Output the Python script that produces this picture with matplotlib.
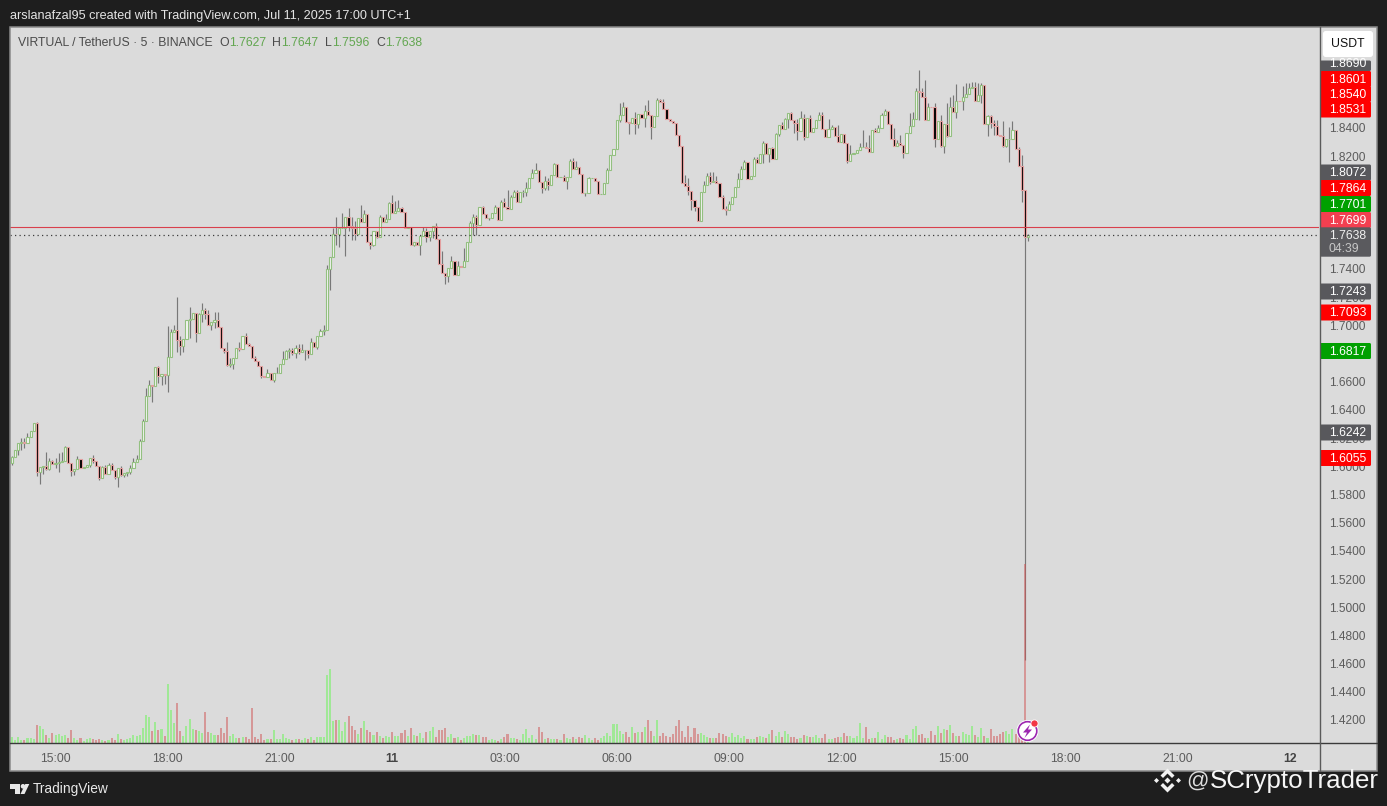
import matplotlib
matplotlib.use("Agg")
import matplotlib.pyplot as plt
from matplotlib.patches import Circle, FancyBboxPatch, Polygon, Rectangle

plt.rcParams['font.family'] = ['Liberation Sans', 'DejaVu Sans']

# 5 minute candles, first open then every close
first_open = 1.6024
closes = [
    1.6064, 1.6116, 1.6165, 1.6170, 1.6168, 1.6208, 1.6248, 1.6307, 1.5958, 1.5995,
    1.6000, 1.5981, 1.6036, 1.6017, 1.6026, 1.6031, 1.6036, 1.6139, 1.6021, 1.5967,
    1.5981, 1.6050, 1.5991, 1.5998, 1.6010, 1.6059, 1.6036, 1.6000, 1.5915, 1.5995,
    1.5946, 1.6012, 1.5972, 1.5925, 1.5988, 1.5941, 1.5951, 1.5960, 1.5988, 1.6031,
    1.6052, 1.6180, 1.6321, 1.6496, 1.6574, 1.6571, 1.6703, 1.6637, 1.6652, 1.6647,
    1.6772, 1.6954, 1.6970, 1.6897, 1.6850, 1.6902, 1.7039, 1.7043, 1.7086, 1.6944,
    1.7081, 1.7109, 1.7079, 1.7001, 1.7022, 1.7036, 1.6987, 1.6838, 1.6819, 1.6720,
    1.6727, 1.6767, 1.6838, 1.6831, 1.6921, 1.6866, 1.6852, 1.6767, 1.6748, 1.6708,
    1.6637, 1.6635, 1.6661, 1.6614, 1.6661, 1.6663, 1.6729, 1.6760, 1.6817, 1.6826,
    1.6803, 1.6838, 1.6814, 1.6824, 1.6826, 1.6798, 1.6885, 1.6845, 1.6921, 1.6963,
    1.6968, 1.7399, 1.7484, 1.7647, 1.7645, 1.7690, 1.7694, 1.7772, 1.7706, 1.7690,
    1.7645, 1.7760, 1.7732, 1.7789, 1.7593, 1.7572, 1.7671, 1.7626, 1.7767, 1.7732,
    1.7753, 1.7867, 1.7796, 1.7808, 1.7831, 1.7801, 1.7690, 1.7701, 1.7572, 1.7588,
    1.7572, 1.7635, 1.7668, 1.7624, 1.7666, 1.7708, 1.7614, 1.7437, 1.7371, 1.7352,
    1.7406, 1.7454, 1.7359, 1.7418, 1.7416, 1.7456, 1.7588, 1.7725, 1.7772, 1.7713,
    1.7838, 1.7791, 1.7760, 1.7763, 1.7796, 1.7838, 1.7749, 1.7874, 1.7843, 1.7824,
    1.7914, 1.7944, 1.7878, 1.7944, 1.7947, 1.7973, 1.8044, 1.8079, 1.8100, 1.8020,
    1.7973, 1.8027, 1.7996, 1.8067, 1.8145, 1.8051, 1.8055, 1.8022, 1.8055, 1.8169,
    1.8112, 1.8126, 1.8074, 1.7937, 1.7940, 1.8044, 1.8046, 1.8027, 1.7930, 1.7933,
    1.8008, 1.8103, 1.8209, 1.8249, 1.8457, 1.8490, 1.8546, 1.8440, 1.8433, 1.8471,
    1.8428, 1.8499, 1.8471, 1.8523, 1.8492, 1.8409, 1.8485, 1.8598, 1.8587, 1.8535,
    1.8464, 1.8450, 1.8434, 1.8349, 1.8275, 1.8009, 1.7990, 1.7950, 1.7891, 1.7841,
    1.7740, 1.7945, 1.7997, 1.8063, 1.8016, 1.8025, 1.8009, 1.7910, 1.7825, 1.7815,
    1.7862, 1.7914, 1.7980, 1.8037, 1.8108, 1.8157, 1.8039, 1.8056, 1.8181, 1.8150,
    1.8214, 1.8297, 1.8214, 1.8257, 1.8183, 1.8358, 1.8419, 1.8391, 1.8462, 1.8504,
    1.8457, 1.8434, 1.8382, 1.8469, 1.8339, 1.8469, 1.8375, 1.8403, 1.8457, 1.8493,
    1.8393, 1.8334, 1.8393, 1.8410, 1.8346, 1.8304, 1.8358, 1.8292, 1.8167, 1.8214,
    1.8221, 1.8245, 1.8264, 1.8268, 1.8257, 1.8233, 1.8386, 1.8375, 1.8398, 1.8493,
    1.8523, 1.8427, 1.8320, 1.8275, 1.8297, 1.8280, 1.8221, 1.8363, 1.8415, 1.8462,
    1.8663, 1.8658, 1.8622, 1.8457, 1.8552, 1.8549, 1.8320, 1.8452, 1.8275, 1.8427,
    1.8344, 1.8547, 1.8511, 1.8594, 1.8592, 1.8622, 1.8639, 1.8684, 1.8688, 1.8594,
    1.8637, 1.8703, 1.8427, 1.8486, 1.8438, 1.8415, 1.8349, 1.8344, 1.8275, 1.8323,
    1.8325, 1.8386, 1.8252, 1.8127, 1.7957, 1.7627, 1.7638,
]

# candle index -> top of the wick, only where a wick shows
wick_highs = {
    0: 1.6071, 3: 1.6201, 4: 1.6201, 5: 1.6236, 8: 1.6314, 11: 1.6102, 12: 1.6059, 13: 1.6047,
    14: 1.6059, 15: 1.6095, 16: 1.6102, 17: 1.6147, 21: 1.6076, 26: 1.6083, 29: 1.6005, 30: 1.6012,
    31: 1.6024, 32: 1.6024, 35: 1.6005, 38: 1.6012, 39: 1.6059, 40: 1.6083, 41: 1.6194, 42: 1.6335,
    43: 1.6555, 44: 1.6614, 47: 1.6708, 50: 1.6996, 51: 1.6973, 52: 1.7003, 53: 1.7199, 54: 1.6921,
    57: 1.7128, 60: 1.7091, 61: 1.7157, 62: 1.7121, 63: 1.7109, 65: 1.7098, 66: 1.7095, 69: 1.6885,
    70: 1.6767, 73: 1.6885, 75: 1.6944, 76: 1.6878, 78: 1.6779, 82: 1.6689, 85: 1.6703, 87: 1.6819,
    88: 1.6826, 89: 1.6838, 90: 1.6838, 91: 1.6862, 92: 1.6866, 93: 1.6866, 96: 1.6909, 99: 1.6973,
    100: 1.7003, 101: 1.7430, 103: 1.7694, 104: 1.7772, 105: 1.7701, 106: 1.7796, 108: 1.7831,
    109: 1.7772, 110: 1.7737, 112: 1.7855, 113: 1.7819, 118: 1.7784, 120: 1.7791, 121: 1.7878,
    122: 1.7926, 123: 1.7885, 124: 1.7890, 125: 1.7843, 132: 1.7701, 133: 1.7690, 136: 1.7725,
    138: 1.7524, 141: 1.7489, 143: 1.7454, 145: 1.7548, 147: 1.7737, 148: 1.7791, 149: 1.7784,
    150: 1.7843, 151: 1.7848, 155: 1.7855, 157: 1.7890, 158: 1.7902, 159: 1.7961, 160: 1.7926,
    161: 1.7961, 162: 1.7961, 164: 1.7961, 165: 1.8020, 167: 1.8107, 168: 1.8150, 171: 1.8060,
    172: 1.8044, 174: 1.8155, 177: 1.8067, 179: 1.8178, 180: 1.8185, 181: 1.8169, 185: 1.8051,
    191: 1.8114, 195: 1.8575, 196: 1.8586, 200: 1.8516, 203: 1.8563, 204: 1.8598, 207: 1.8610,
    208: 1.8604, 209: 1.8604, 216: 1.8068, 217: 1.8044, 222: 1.8021, 223: 1.8080, 224: 1.8091,
    225: 1.8091, 226: 1.8056, 228: 1.7926, 229: 1.7844, 230: 1.7879, 233: 1.8080, 234: 1.8127,
    235: 1.8174, 238: 1.8193, 239: 1.8193, 241: 1.8309, 244: 1.8268, 245: 1.8368, 247: 1.8445,
    248: 1.8469, 249: 1.8509, 250: 1.8516, 252: 1.8462, 253: 1.8523, 254: 1.8500, 256: 1.8493,
    259: 1.8516, 260: 1.8516, 262: 1.8462, 263: 1.8422, 265: 1.8422, 269: 1.8280, 272: 1.8292,
    273: 1.8386, 274: 1.8304, 275: 1.8351, 277: 1.8398, 278: 1.8422, 279: 1.8504, 280: 1.8533,
    283: 1.8398, 284: 1.8316, 285: 1.8351, 288: 1.8504, 289: 1.8516, 290: 1.8681, 291: 1.8811,
    292: 1.8681, 293: 1.8740, 294: 1.8575, 296: 1.8575, 298: 1.8493, 300: 1.8575, 301: 1.8622,
    302: 1.8634, 303: 1.8712, 305: 1.8698, 306: 1.8717, 307: 1.8717, 308: 1.8729, 309: 1.8729,
    310: 1.8717, 311: 1.8717, 313: 1.8493, 314: 1.8493, 315: 1.8457, 316: 1.8457, 318: 1.8450,
    320: 1.8410, 321: 1.8450, 323: 1.8268, 324: 1.8209, 326: 1.7647,
}

# candle index -> bottom of the wick
wick_lows = {
    0: 1.6012, 2: 1.6083, 3: 1.6118, 4: 1.6130, 8: 1.5934, 9: 1.5877, 10: 1.5948, 11: 1.5977,
    12: 1.5977, 14: 1.5988, 15: 1.5958, 19: 1.5929, 20: 1.5941, 25: 1.5993, 26: 1.6024, 28: 1.5906,
    33: 1.5911, 34: 1.5852, 35: 1.5929, 36: 1.5922, 37: 1.5934, 38: 1.5948, 45: 1.6456, 47: 1.6590,
    48: 1.6578, 49: 1.6585, 50: 1.6524, 53: 1.6814, 54: 1.6786, 55: 1.6814, 57: 1.6909, 59: 1.6885,
    61: 1.7027, 62: 1.7043, 64: 1.6968, 65: 1.6980, 68: 1.6807, 69: 1.6708, 70: 1.6703, 71: 1.6692,
    73: 1.6821, 80: 1.6626, 82: 1.6633, 84: 1.6595, 89: 1.6767, 90: 1.6791, 91: 1.6767, 92: 1.6798,
    94: 1.6751, 95: 1.6767, 98: 1.6831, 100: 1.6932, 102: 1.7248, 104: 1.7572, 105: 1.7553,
    107: 1.7489, 108: 1.7666, 109: 1.7602, 110: 1.7607, 115: 1.7541, 116: 1.7560, 117: 1.7619,
    129: 1.7560, 131: 1.7496, 133: 1.7588, 134: 1.7595, 135: 1.7619, 139: 1.7293, 140: 1.7307,
    148: 1.7638, 149: 1.7638, 153: 1.7744, 164: 1.7914, 165: 1.7919, 170: 1.7937, 171: 1.7961,
    172: 1.7961, 178: 1.7970, 184: 1.7919, 195: 1.8445, 198: 1.8357, 200: 1.8355, 201: 1.8398,
    203: 1.8409, 205: 1.8320, 217: 1.7926, 218: 1.7820, 219: 1.7808, 224: 1.8004, 229: 1.7785,
    241: 1.8150, 243: 1.8162, 246: 1.8344, 249: 1.8398, 251: 1.8363, 252: 1.8316, 254: 1.8316,
    268: 1.8150, 286: 1.8186, 291: 1.8457, 296: 1.8264, 298: 1.8264, 299: 1.8226, 300: 1.8339,
    303: 1.8469, 305: 1.8528, 311: 1.8575, 313: 1.8344, 314: 1.8398, 315: 1.8351, 318: 1.8268,
    319: 1.8264, 320: 1.8162, 324: 1.7877, 325: 1.4628, 326: 1.7596,
}

volumes = [
    17, 9, 17, 9, 9, 14, 14, 11, 53, 50,
    41, 23, 14, 29, 23, 26, 21, 23, 14, 38,
    14, 9, 14, 6, 11, 14, 11, 9, 11, 8,
    5, 9, 14, 9, 26, 11, 9, 11, 14, 23,
    21, 23, 44, 83, 77, 35, 62, 38, 41, 20,
    176, 98, 59, 119, 35, 20, 50, 71, 41, 38,
    35, 29, 92, 32, 29, 23, 23, 44, 29, 77,
    20, 26, 14, 14, 17, 17, 11, 104, 17, 11,
    26, 8, 11, 11, 38, 11, 11, 26, 14, 11,
    8, 11, 11, 8, 14, 11, 17, 8, 17, 17,
    17, 204, 221, 65, 68, 68, 35, 62, 80, 50,
    38, 26, 44, 65, 38, 32, 23, 32, 20, 14,
    20, 17, 32, 20, 20, 29, 38, 20, 44, 23,
    20, 29, 14, 32, 35, 47, 17, 38, 38, 44,
    17, 26, 14, 17, 9, 14, 20, 20, 26, 23,
    23, 17, 17, 9, 11, 9, 6, 11, 17, 26,
    14, 14, 11, 8, 27, 42, 14, 23, 12, 48,
    33, 11, 14, 11, 11, 11, 8, 26, 14, 11,
    17, 11, 17, 14, 23, 14, 9, 14, 8, 14,
    21, 29, 21, 57, 57, 35, 26, 33, 17, 48,
    29, 33, 33, 48, 68, 35, 21, 68, 21, 29,
    21, 17, 26, 50, 68, 35, 17, 50, 17, 44,
    26, 29, 23, 17, 14, 14, 14, 29, 26, 20,
    17, 29, 17, 23, 14, 20, 11, 11, 11, 17,
    20, 17, 14, 26, 38, 20, 33, 17, 35, 26,
    17, 17, 11, 14, 23, 20, 17, 17, 23, 14,
    14, 26, 11, 11, 14, 17, 17, 29, 20, 20,
    14, 20, 59, 14, 48, 11, 14, 14, 33, 11,
    23, 17, 17, 8, 11, 14, 11, 23, 11, 42,
    50, 23, 26, 14, 14, 35, 23, 50, 29, 42,
    38, 53, 29, 20, 20, 33, 26, 23, 50, 23,
    17, 44, 20, 14, 42, 21, 21, 26, 33, 35,
    27, 42, 26, 40, 30, 537, 10,
]

# the other round levels sit fully behind the tags on the right
price_ticks = [1.42, 1.44, 1.46, 1.48, 1.50, 1.52, 1.54, 1.56, 1.58, 1.60, 1.62, 1.64, 1.66,
               1.70, 1.72, 1.74, 1.82, 1.84]
time_ticks = [14, 50, 86, 122, 158, 194, 230, 266, 302, 338, 374, 410]
time_labels = ['15:00', '18:00', '21:00', '11', '03:00', '06:00', '09:00', '12:00', '15:00', '18:00', '21:00', '12']

last_red_line = 1.7699
last_price = 1.7638

# right hand price tags: text, colour, centre row in pixels
tags = [
    ('1.8690', '#58585c', 63), ('1.8601', '#ff0000', 79), ('1.8540', '#ff0000', 94), ('1.8531', '#ff0000', 109.5),
    ('1.8072', '#58585c', 172.5), ('1.7864', '#ff0000', 188), ('1.7701', '#00a000', 204), ('1.7699', '#f23f50', 220),
    ('1.7243', '#58585c', 291.5), ('1.7093', '#ff0000', 312.5), ('1.6817', '#00a000', 351),
    ('1.6242', '#58585c', 432.5), ('1.6055', '#ff0000', 458),
]

W, H = 1387, 806
BG = '#1e1e1e'
PANE = '#dbdbdb'
PX_PER_PRICE = 28.19 / 0.02


def price_at(row):
    return 1.84 - (row - 128) / PX_PER_PRICE


def candle_at(col):
    return (col - 11.9) / 3.117


def pane_rect(x0, y0, x1, y1):
    return [x0 / W, (H - y1) / H, (x1 - x0) / W, (y1 - y0) / H]


opens = [first_open] + closes[:-1]
idx = list(range(len(closes)))
highs = [max(o, c, wick_highs.get(i, 0)) for i, o, c in zip(idx, opens, closes)]
lows = [min(o, c, wick_lows.get(i, 9)) for i, o, c in zip(idx, opens, closes)]
is_up = [c >= o for o, c in zip(opens, closes)]

fig = plt.figure(figsize=(W / 100, H / 100), dpi=100, facecolor=BG)

back = fig.add_axes(pane_rect(10, 27, 1377, 771), facecolor=PANE, zorder=0)
back.set_xticks([])
back.set_yticks([])
for s in back.spines.values():
    s.set_visible(False)

ax = fig.add_axes(pane_rect(10, 27, 1319, 743), zorder=1)
ax.patch.set_visible(False)
vol = ax.twinx()
vol.patch.set_visible(False)

# candles
ax.vlines(idx, lows, highs, color='#787878', lw=0.85, zorder=2)
up_i = [i for i in idx if is_up[i]]
dn_i = [i for i in idx if not is_up[i]]
ax.bar(up_i, [closes[i] - opens[i] for i in up_i], bottom=[opens[i] for i in up_i], width=0.68,
       facecolor='#f4f4f4', edgecolor='#93c080', linewidth=0.8, zorder=3)
ax.bar(dn_i, [closes[i] - opens[i] for i in dn_i], bottom=[opens[i] for i in dn_i], width=0.68,
       facecolor='#000000', edgecolor='#e3a0a0', linewidth=0.8, zorder=3)

ax.axhline(last_red_line, color='#d9404c', lw=0.8, zorder=4)
ax.axhline(last_price, color='#3c3c3c', lw=0.9, ls=(0, (1, 2.6)), zorder=4)

# volume on its own scale, same baseline
vol.bar(up_i, [volumes[i] for i in up_i], width=0.66, color=(0.40, 0.96, 0.32), alpha=0.5, linewidth=0)
vol.bar(dn_i, [volumes[i] for i in dn_i], width=0.66, color=(0.82, 0.33, 0.33), alpha=0.5, linewidth=0)
vol.set_ylim(0, 716 * 3)
vol.set_yticks([])

ax.set_ylim(price_at(743), price_at(27))
ax.set_xlim(candle_at(10), candle_at(1319))
ax.yaxis.tick_right()
ax.set_yticks(price_ticks)
ax.set_yticklabels(['%.4f' % p for p in price_ticks])
ax.tick_params(axis='y', length=0, pad=7.2, labelsize=8.6, labelcolor='#5c5c5c')
ax.set_xticks(time_ticks)
ax.set_xticklabels(time_labels)
ax.tick_params(axis='x', length=0, pad=7.2, labelsize=8.8, labelcolor='#5c5c5c')
for lab in ax.get_xticklabels():
    if lab.get_text() in ('11', '12'):
        lab.set_fontweight('bold')
        lab.set_color('#444444')
for a in (ax, vol):
    for s in a.spines.values():
        s.set_visible(False)

# everything around the chart, in pixel rows and columns
top = fig.add_axes([0, 0, 1, 1], zorder=5)
top.set_xlim(0, W)
top.set_ylim(H, 0)
top.axis('off')

top.add_patch(Rectangle((10, 27), 1367, 744, fill=False, ec='#8a8a8a', lw=1.1))
top.plot([10, 1377], [743, 743], color='#3a3a3a', lw=1.0)
top.plot([1319.5, 1319.5], [27, 771], color='#5a5a5a', lw=1.0)

top.text(10, 15.8, 'arslanafzal95 created with TradingView.com, Jul 11, 2025 17:00 UTC+1',
         color='#e4e4e4', fontsize=9.05, va='center')

top.text(18, 43, 'VIRTUAL / TetherUS · 5 · BINANCE', color='#4a4a4a', fontsize=8.87, va='center')
for x, s, col in [(219, 'O', '#4a4a4a'), (229, '1.7627', '#62a650'), (272, 'H', '#4a4a4a'), (281, '1.7647', '#62a650'),
                  (325, 'L', '#4a4a4a'), (332, '1.7596', '#62a650'), (376, 'C', '#4a4a4a'), (385, '1.7638', '#62a650')]:
    top.text(x, 43, s, color=col, fontsize=8.8, va='center')

top.add_patch(FancyBboxPatch((1324, 32), 48, 24, boxstyle='round,pad=0,rounding_size=2', fc='white', ec='white', lw=1.5))
top.text(1348, 44, 'USDT', color='#111111', fontsize=8.8, ha='center', va='center')

for label, col, row in tags:
    box_top = row - 2.5 if label == '1.8690' else row - 8
    top.add_patch(FancyBboxPatch((1320, box_top), 51, row + 8 - box_top, boxstyle='round,pad=0,rounding_size=1.5', fc=col, ec='none'))
    top.text(1347.5, row + 0.6, label, color='white', fontsize=8.7, ha='center', va='center')

top.add_patch(FancyBboxPatch((1320, 227.3), 51, 29.4, boxstyle='round,pad=0,rounding_size=1.5', fc='#5a5a5e', ec='none'))
top.text(1347.5, 235.8, '%.4f' % last_price, color='#f0f0f0', fontsize=8.7, ha='center', va='center')
top.text(1343.5, 249, '04:39', color='#c8c8c8', fontsize=8.7, ha='center', va='center')

# lightning badge
top.add_patch(Circle((1027.5, 731), 11, fc='white', ec='none'))
top.add_patch(Circle((1027.5, 731), 9.3, fc='white', ec='#9c27b0', lw=1.2))
top.add_patch(Polygon([(1030, 724.5), (1023, 732.5), (1027, 732.5), (1024.5, 738), (1032, 729.5), (1028, 729.5)], fc='#9c27b0', ec='none'))
top.add_patch(Circle((1034.5, 723.5), 3.6, fc='#f23645', ec='white', lw=0.6))

# TradingView logo and name
logo = '#e8e8e8'
top.add_patch(Polygon([(10, 784), (20, 784), (20, 794), (15, 794), (15, 789), (10, 789)], fc=logo, ec='none'))
top.add_patch(Circle((23, 786.3), 2.3, fc=logo, ec='none'))
top.add_patch(Polygon([(20.5, 794), (25.3, 784), (29.3, 784), (24.5, 794)], fc=logo, ec='none'))
top.text(33, 789.5, 'TradingView', color='#e8e8e8', fontsize=9.9, va='center')

# watermark
wm = '#f2f2f2'
cx, cy = 1167.5, 780.5
top.add_patch(Polygon([(cx - 3, cy), (cx, cy - 3), (cx + 3, cy), (cx, cy + 3)], fc=wm, ec='none'))
top.add_patch(Polygon([(cx - 13.5, cy), (cx - 11, cy - 2.5), (cx - 8.5, cy), (cx - 11, cy + 2.5)], fc=wm, ec='none'))
top.add_patch(Polygon([(cx + 13.5, cy), (cx + 11, cy - 2.5), (cx + 8.5, cy), (cx + 11, cy + 2.5)], fc=wm, ec='none'))
top.add_patch(Polygon([(cx - 7, cy - 5), (cx, cy - 12), (cx + 7, cy - 5), (cx + 4.5, cy - 2.5), (cx, cy - 7), (cx - 4.5, cy - 2.5)], fc=wm, ec='none'))
top.add_patch(Polygon([(cx - 7, cy + 5), (cx, cy + 12), (cx + 7, cy + 5), (cx + 4.5, cy + 2.5), (cx, cy + 7), (cx - 4.5, cy + 2.5)], fc=wm, ec='none'))
top.text(1186, 781, '@', color='#dcdcdc', fontsize=16, va='center')
top.text(1210, 781, 'SCryptoTrader', color='#f6f6f6', fontsize=18.6, va='center')

fig.savefig('out.png', dpi=100, facecolor=BG)
